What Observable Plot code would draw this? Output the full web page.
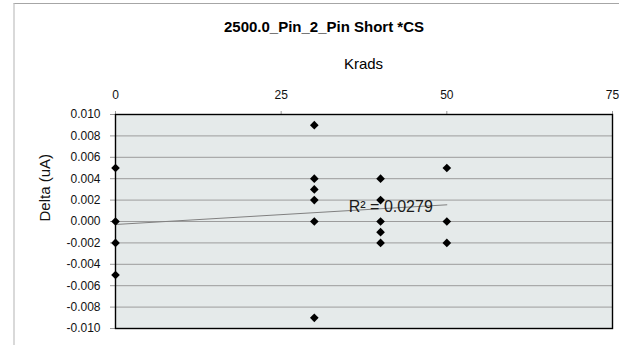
<!DOCTYPE html>
<html>
<head>
<meta charset="utf-8">
<script src="https://cdn.jsdelivr.net/npm/d3@7"></script>
<script src="https://cdn.jsdelivr.net/npm/@observablehq/plot@0.6"></script>
<style>
  html, body { margin: 0; padding: 0; background: #fff; }
  #wrap { position: relative; width: 619px; height: 345px; overflow: hidden; font-family: "Liberation Sans", Arial, sans-serif; }
  #border { position: absolute; left: 13px; top: 3px; width: 700px; height: 400px; border-left: 2px solid #d9d9d9; border-top: 1px solid #a6a6a6; }
  #title { position: absolute; left: 0; top: 19px; width: 648px; text-align: center; font-weight: bold; font-size: 15px; line-height: 16px; color: #000; }
  #xlabel { position: absolute; left: 0; top: 56px; width: 727px; text-align: center; font-size: 15px; line-height: 16px; color: #000; }
  #chart { position: absolute; left: 0; top: 0; }
</style>
</head>
<body>
<div id="wrap">
  <div id="border"></div>
  <div id="chart"></div>
  <div id="title"></div>
  <div id="xlabel"></div>
</div>
<script>
const titleText = "2500.0_Pin_2_Pin Short *CS";
const xLabelText = "Krads";
const yLabelText = "Delta (uA)";
const r2Text = "R² = 0.0279";

// Data
const krads = [0, 0, 0, 0, 30, 30, 30, 30, 30, 30, 40, 40, 40, 40, 40, 50, 50, 50];
const delta = [0.005, 0, -0.002, -0.005, 0.009, 0.004, 0.003, 0.002, 0, -0.009, 0.004, 0.002, 0, -0.001, -0.002, 0.005, 0, -0.002];

// Trend line (linear fit) end points
const trendX = [0, 50];
const trendY = [-0.00028, 0.00156];

// R² label position (data units)
const r2X = [35.2];
const r2Y = [0.0014];

const xTicks = [0, 25, 50, 75];
const yTicks = [-0.010, -0.008, -0.006, -0.004, -0.002, 0.000, 0.002, 0.004, 0.006, 0.008, 0.010];

const points = krads.map((k, i) => ({x: k, y: delta[i]}));
const trend = trendX.map((t, i) => ({x: t, y: trendY[i]}));
const r2 = [{x: r2X[0], y: r2Y[0], label: r2Text}];

document.getElementById("title").textContent = titleText;
document.getElementById("xlabel").textContent = xLabelText;

const chart = Plot.plot({
  width: 619,
  height: 345,
  marginLeft: 115,
  marginRight: 7,
  marginTop: 114,
  marginBottom: 17,
  style: {fontFamily: "Liberation Sans, Arial, sans-serif", background: "transparent", overflow: "visible"},
  x: {domain: [0, 75]},
  y: {domain: [-0.01, 0.01]},
  marks: [
    Plot.frame({fill: "#e5eaea", stroke: null}),
    Plot.gridY(yTicks, {stroke: "#9c9c9c", strokeOpacity: 1, strokeWidth: 1}),
    Plot.axisX(xTicks, {anchor: "top", tickSize: 4, tickPadding: 12, fontSize: 12, stroke: "#999", fill: "#111", label: null, tickFormat: d => String(d)}),
    Plot.axisY(yTicks, {anchor: "left", tickSize: 5, tickPadding: 10, fontSize: 12, stroke: "#999", fill: "#111", label: null, tickFormat: d => d.toFixed(3)}),
    Plot.line(trend, {x: "x", y: "y", stroke: "#808080", strokeWidth: 1}),
    Plot.dot(points, {x: "x", y: "y", symbol: "diamond2", r: 3.9, fill: "#000", stroke: null}),
    Plot.text(r2, {x: "x", y: "y", text: "label", textAnchor: "start", fontSize: 16, fill: "#1a1a1a"}),
    Plot.text([yLabelText], {frameAnchor: "left", dx: -70, rotate: -90, fontSize: 15, fill: "#111"}),
    Plot.frame({stroke: "#000", strokeWidth: 1.4})
  ]
});
document.getElementById("chart").appendChild(chart);
</script>
</body>
</html>
